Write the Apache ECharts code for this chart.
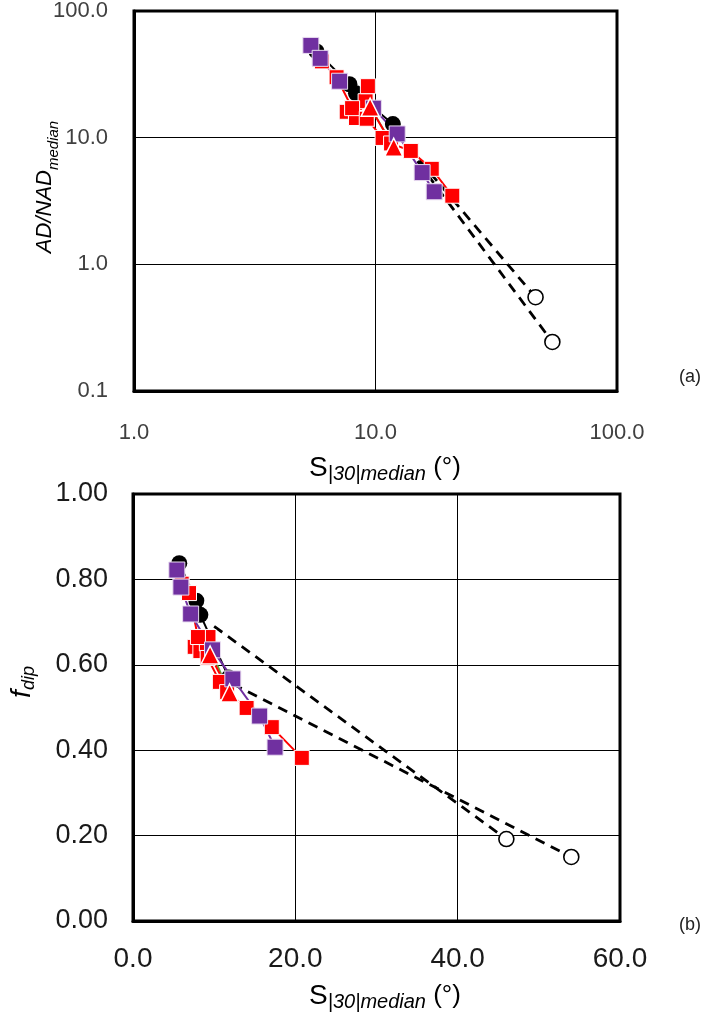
<!DOCTYPE html>
<html><head><meta charset="utf-8">
<script src="https://cdn.jsdelivr.net/npm/echarts@6/dist/echarts.min.js"></script>
<style>html,body{margin:0;padding:0;background:#fff}#c{width:704px;height:1016px}</style>
</head><body><div id="c"></div>
<script>
// ---- data ----
const topXRange = [1, 100];
const topYRange = [0.1, 100];
const botXRange = [0, 60];
const botYRange = [0, 1];
const botXInterval = 20;
const botYInterval = 0.2;

const purpleS  = [5.4, 5.9, 7.1, 9.8, 12.3, 15.6, 17.5];
const purpleAD = [53.5, 42.3, 27.9, 17.1, 10.7, 5.3, 3.74];
const purpleF  = [0.822, 0.782, 0.719, 0.635, 0.567, 0.480, 0.407];

const blackS  = [5.7, 7.8, 8.3, 11.8];
const blackAD = [48, 26.4, 22.4, 12.8];
const blackF  = [0.838, 0.75, 0.717, 0.57];

const red1S  = [6.0, 6.9, 8.0, 9.2, 10.7, 11.6, 14.0, 17.1, 20.8];
const red1AD = [40, 30, 17.1, 14.1, 9.95, 9.0, 7.86, 5.68, 3.48];
const red1F  = [0.79, 0.768, 0.665, 0.616, 0.560, 0.536, 0.499, 0.454, 0.382];

const red2S  = [7.6, 8.3, 9.1, 9.3];
const red2AD = [16, 14.3, 19.4, 25.5];
const red2F  = [0.642, 0.632, 0.650, 0.665];

const triS  = [9.5, 11.9];
const triAD = [17.4, 8.4];
const triF  = [0.623, 0.534];

const greenS  = [9.9, 11.5];
const greenAD = [15.3, 9.4];
const greenF  = [0.62, 0.55];

const dash1S  = [10.0, 46.0];
const dash1AD = [17.0, 0.55];
const dash1F  = [0.69, 0.192];

const dash2S  = [12.3, 54.0];
const dash2AD = [10.7, 0.244];
const dash2F  = [0.555, 0.15];

// ---- chart ----
const FONT = 'Liberation Sans';
const chart = echarts.init(document.getElementById('c'), null, {renderer: 'canvas'});

function pairs(S, V) { return S.map((s, i) => [s, V[i]]); }

function mk(S, V, g, st) {
  return Object.assign({
    type: 'line', xAxisIndex: g, yAxisIndex: g, data: pairs(S, V),
    animation: false, silent: true
  }, st);
}
function dashed(S, V, g) {
  const d = pairs(S, V);
  return {
    type: 'line', xAxisIndex: g, yAxisIndex: g, animation: false, silent: true,
    data: [{value: d[0], symbol: 'none'}, {value: d[1]}],
    symbol: 'circle', symbolSize: 15,
    itemStyle: {color: '#fff', borderColor: '#000', borderWidth: 1.6},
    lineStyle: {color: '#000', width: 2.8, type: [10, 7]}
  };
}
const st = {
  black: {symbol: 'circle', symbolSize: 16, itemStyle: {color: '#000'}, lineStyle: {color: '#000', width: 2}},
  red2: {symbol: 'rect', symbolSize: 15, itemStyle: {color: '#ff0000', borderColor: '#fff', borderWidth: 1}, lineStyle: {color: '#ff0000', width: 2}},
  red1: {symbol: 'rect', symbolSize: 15, itemStyle: {color: '#ff0000', borderColor: '#fff', borderWidth: 1}, lineStyle: {color: '#ff0000', width: 2}},
  green: {symbol: 'none', lineStyle: {color: '#5fa83a', width: 2}},
  purple: {symbol: 'rect', symbolSize: 16, itemStyle: {color: '#7030a0', borderColor: '#e8dcf0', borderWidth: 1}, lineStyle: {color: '#7030a0', width: 2}},
  tri: {symbol: 'triangle', symbolSize: 18, itemStyle: {color: '#ff0000', borderColor: '#fff', borderWidth: 1.5}, lineStyle: {color: '#ff0000', width: 2}}
};

function seriesFor(g) {
  const isTop = g === 0;
  return [
    dashed(dash1S, isTop ? dash1AD : dash1F, g),
    dashed(dash2S, isTop ? dash2AD : dash2F, g),
    mk(blackS, isTop ? blackAD : blackF, g, st.black),
    mk(red2S, isTop ? red2AD : red2F, g, st.red2),
    mk(red1S, isTop ? red1AD : red1F, g, st.red1),
    mk(greenS, isTop ? greenAD : greenF, g, st.green),
    mk(purpleS, isTop ? purpleAD : purpleF, g, st.purple),
    mk(triS, isTop ? triAD : triF, g, st.tri)
  ];
}

const axisLine = {show: true, lineStyle: {color: '#000', width: 3}};
const split = {show: true, lineStyle: {color: '#000', width: 1}};

const subRich = (big, small) => ({
  m: {fontFamily: FONT, fontSize: big, fontStyle: 'italic', color: '#222', lineHeight: 32, verticalAlign: 'middle'},
  u: {fontFamily: FONT, fontSize: big, color: '#222', lineHeight: 32, verticalAlign: 'middle'},
  s: {fontFamily: FONT, fontSize: small, fontStyle: 'italic', color: '#222', lineHeight: 15, verticalAlign: 'bottom'},
  p: {fontFamily: FONT, fontSize: big - 2, color: '#222', lineHeight: 32, verticalAlign: 'middle'}
});

const option = {
  backgroundColor: '#fff',
  animation: false,
  grid: [
    {left: 134, top: 9, width: 483, height: 382, show: true, borderColor: '#000', borderWidth: 3, backgroundColor: 'transparent'},
    {left: 133, top: 494, width: 487, height: 427, show: true, borderColor: '#000', borderWidth: 3, backgroundColor: 'transparent'}
  ],
  xAxis: [
    {type: 'log', logBase: 10, gridIndex: 0, min: topXRange[0], max: topXRange[1],
     axisLine, axisTick: {show: false}, splitLine: split,
     axisLabel: {fontFamily: FONT, fontSize: 22, color: '#404040', margin: 31, formatter: v => Number(v).toFixed(1)}},
    {type: 'value', gridIndex: 1, min: botXRange[0], max: botXRange[1], interval: botXInterval,
     axisLine, axisTick: {show: false}, splitLine: split,
     axisLabel: {fontFamily: FONT, fontSize: 28, color: '#1a1a1a', margin: 24, formatter: v => Number(v).toFixed(1)}}
  ],
  yAxis: [
    {type: 'log', logBase: 10, gridIndex: 0, min: topYRange[0], max: topYRange[1],
     axisLine, axisTick: {show: false}, splitLine: split,
     axisLabel: {fontFamily: FONT, fontSize: 22, color: '#404040', margin: 26, formatter: v => Number(v).toFixed(1)}},
    {type: 'value', gridIndex: 1, min: botYRange[0], max: botYRange[1], interval: botYInterval,
     axisLine, axisTick: {show: false}, splitLine: split,
     axisLabel: {fontFamily: FONT, fontSize: 27, color: '#1a1a1a', margin: 25, formatter: v => Number(v).toFixed(2)}}
  ],
  series: [...seriesFor(0), ...seriesFor(1)],
  graphic: [
    {type: 'text', x: 45, y: 187, rotation: Math.PI / 2, silent: true,
     style: {text: '{m|AD/NAD}{s|median}', rich: subRich(22, 15), align: 'center', verticalAlign: 'middle'}},
    {type: 'text', x: 385, y: 468, silent: true,
     style: {text: '{u|S}{s|\u007C30\u007Cmedian}{p| (°)}', rich: subRich(28, 20), align: 'center', verticalAlign: 'middle'}},
    {type: 'text', x: 22, y: 682, rotation: Math.PI / 2, silent: true,
     style: {text: '{m|f}{s|dip}', rich: subRich(28, 18), align: 'center', verticalAlign: 'middle'}},
    {type: 'text', x: 385, y: 996, silent: true,
     style: {text: '{u|S}{s|\u007C30\u007Cmedian}{p| (°)}', rich: subRich(28, 20), align: 'center', verticalAlign: 'middle'}},
    {type: 'text', x: 690, y: 377, silent: true,
     style: {text: '(a)', font: '18px "Liberation Sans"', fill: '#222', align: 'center', verticalAlign: 'middle'}},
    {type: 'text', x: 690, y: 925, silent: true,
     style: {text: '(b)', font: '18px "Liberation Sans"', fill: '#222', align: 'center', verticalAlign: 'middle'}}
  ]
};
chart.setOption(option);
</script>
</body></html>
